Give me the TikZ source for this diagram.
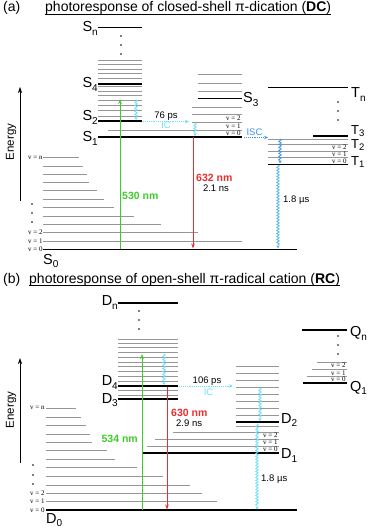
\documentclass[tikz,border=0pt]{standalone}
\usepackage{fontspec}
\setmainfont{Liberation Sans}
\newfontfamily\serifv{Liberation Serif}
\usetikzlibrary{arrows.meta,decorations.pathmorphing}
\definecolor{lvlgray}{RGB}{150,150,150}
\definecolor{grn}{RGB}{60,205,40}
\definecolor{rd}{RGB}{235,45,45}
\definecolor{cy}{RGB}{105,225,250}
\definecolor{bl}{RGB}{60,150,235}
\newcommand\stsub[2]{#1\raisebox{-3.8pt}{\fontsize{10}{10}\selectfont #2}}
\newcommand\stsubt[2]{#1\raisebox{-2.3pt}{\fontsize{9.5}{10}\selectfont #2}}
\begin{document}
\begin{tikzpicture}[x=1pt,y=-1pt,
  glvl/.style={draw=lvlgray, line width=0.8pt},
  blvl/.style={draw=black, line width=1.5pt},
  statelab/.style={font=\fontsize{14.5}{15}\selectfont, inner sep=0pt},
  tlab/.style={font=\fontsize{13}{14}\selectfont, inner sep=0pt},
  vlab/.style={font=\serifv\fontsize{7}{7}\selectfont, inner sep=0.3pt},
  smalllab/.style={font=\fontsize{9.5}{10}\selectfont, inner sep=0pt},
  nmlab/.style={font=\bfseries\fontsize{10.5}{11}\selectfont, inner sep=0pt},
  ttl/.style={font=\fontsize{14}{15}\selectfont, inner sep=0pt},
  enlab/.style={font=\fontsize{11.5}{12}\selectfont, inner sep=0pt, rotate=90},
  eaxis/.style={draw=black, line width=0.6pt, -{Stealth[length=6pt,width=4pt]}},
  grnarr/.style={draw=grn, line width=1pt, -{Stealth[length=5pt,width=3.5pt]}},
  redarr/.style={draw=rd, line width=1pt, -{Stealth[length=5pt,width=3.5pt]}},
  icarr/.style={draw=cy, line width=0.9pt, densely dotted, -{Stealth[length=4pt,width=3.5pt]}},
  iscarr/.style={draw=bl, line width=0.9pt, densely dotted, -{Stealth[length=4pt,width=3.5pt]}},
  wavy/.style={line width=0.8pt, decorate, decoration={snake, amplitude=1.2pt, segment length=3pt, post length=3pt}, -{Stealth[length=3pt,width=3pt]}},
  dotm/.style={fill=black}
]
\useasboundingbox (0,0) rectangle (367,529);

% ================= (a) =================
\node[ttl, anchor=base west] (pa) at (3,11.7) {(a)};
\node[ttl, anchor=base west] (ta) at (45,11.7) {photoresponse of closed-shell π-dication (\textbf{DC})};
\draw[line width=0.6pt] ([yshift=-2.6pt]ta.base west) -- ([yshift=-2.6pt]ta.base east);

% energy axis
\coordinate (ea0) at (20,201); \coordinate (ea1) at (20,87);
\draw[eaxis] (ea0) -- (ea1);
\node[enlab] (ena) at (11,142) {Energy};

% S0 vibrational ladder
\foreach \y/\xe in {157.7/79, 166/83, 174/87, 182.3/89, 190.7/97, 199/104, 207.5/114, 216/134, 224.3/161, 232.6/198, 241/242}
  \draw[glvl] (43,\y) -- (\xe,\y);
\draw[blvl] (43,249.5) -- (297,249.5);
\node[statelab, anchor=base west] (s0) at (43,264) {\stsub{S}{0}};
\node[vlab, anchor=east] (avn) at (43,157.7) {v = n};
\node[vlab, anchor=east] (av2) at (43,232.6) {v = 2};
\node[vlab, anchor=east] (av1) at (43,241) {v = 1};
\node[vlab, anchor=east] (av0) at (43,249.5) {v = 0};
\foreach \y in {204,213,222} \fill[dotm] (32,\y) circle (0.9pt);

% singlet ladder S2/S4/Sn
\foreach \y in {60,64.3,69,73.3,78.3,86.7,91,95,100,105.5,110.7,116}
  \draw[glvl] (98,\y) -- (142,\y);
\draw[blvl] (98,27.3) -- (142,27.3);
\draw[blvl] (98,84) -- (142,84);
\draw[blvl] (98,121) -- (142,121);
\foreach \y in {36,45,54} \fill[dotm] (121,\y) circle (0.9pt);
\node[statelab, anchor=base east] (sn) at (98,31.5) {\stsub{S}{n}};
\node[statelab, anchor=base east] (s4) at (98,87.5) {\stsub{S}{4}};
\node[statelab, anchor=base east] (s2) at (98,121) {\stsub{S}{2}};

% S1 and S3 stack
\draw[glvl] (108,130) -- (242,130);
\draw[blvl] (98,137) -- (242,137);
\node[statelab, anchor=base east] (s1) at (98,142) {\stsub{S}{1}};
\foreach \y in {74,83,91} \draw[glvl] (198,\y) -- (242,\y);
\draw[blvl] (198,98.3) -- (242,98.3);
\foreach \y in {107,114,122} \draw[glvl] (192,\y) -- (242,\y);
\node[statelab, anchor=base west] (s3) at (243,103) {\stsub{S}{3}};
\node[vlab, anchor=south east] (bv2) at (241,121.5) {v = 2};
\node[vlab, anchor=south east] (bv1) at (241,129.5) {v = 1};
\node[vlab, anchor=south east] (bv0) at (241,136.3) {v = 0};

% triplet stack
\draw[blvl] (268,87.7) -- (348,87.7);
\foreach \y in {102,111,120} \fill[dotm] (338,\y) circle (0.9pt);
\foreach \y in {139,144.5,151,157.5} \draw[glvl] (268,\y) -- (348,\y);
\draw[blvl] (313,136) -- (348,136);
\draw[blvl] (268,164.3) -- (348,164.3);
\node[vlab, anchor=south east] (tv2) at (347,150.5) {v = 2};
\node[vlab, anchor=south east] (tv1) at (347,157) {v = 1};
\node[vlab, anchor=south east] (tv0) at (347,163.6) {v = 0};
\node[statelab, anchor=base west] (tn) at (351,98) {\stsub{T}{n}};
\node[tlab, anchor=base west] (t3) at (351,134.5) {\stsubt{T}{3}};
\node[tlab, anchor=base west] (t2) at (351,148.3) {\stsubt{T}{2}};
\node[tlab, anchor=base west] (t1) at (351,165.5) {\stsubt{T}{1}};

% arrows (a)
\coordinate (ag0) at (120,248.5); \coordinate (ag1) at (120,99);
\draw[grnarr] (ag0) -- (ag1);
\node[nmlab, text=grn, anchor=base west] (a530) at (122,200) {530 nm};
\coordinate (aw0) at (136,100); \coordinate (aw1) at (136,120);
\draw[wavy, cy] (aw0) -- (aw1);
\coordinate (aic0) at (143,121.5); \coordinate (aic1) at (189,121.5);
\draw[icarr] (aic0) -- (aic1);
\node[smalllab, anchor=base] (a76) at (166,119) {76 ps};
\node[smalllab, text=cy, anchor=base] (aic) at (166,128.5) {IC};
\coordinate (aw2) at (195,123); \coordinate (aw3) at (195,136);
\draw[wavy, cy] (aw2) -- (aw3);
\coordinate (ar0) at (193,137.5); \coordinate (ar1) at (193,248.5);
\draw[redarr] (ar0) -- (ar1);
\node[nmlab, text=rd, anchor=base west] (a632) at (196,181.7) {632 nm};
\node[smalllab, anchor=base] (a21) at (216,191.5) {2.1 ns};
\coordinate (ai0) at (244,137.5); \coordinate (ai1) at (268,137.5);
\draw[iscarr] (ai0) -- (ai1);
\node[smalllab, text=bl, anchor=base] (aisc) at (254.5,135.3) {ISC};
\coordinate (aw4) at (280,139); \coordinate (aw5) at (280,163.5);
\draw[wavy, bl] (aw4) -- (aw5);
\coordinate (aw6) at (278,165); \coordinate (aw7) at (278,248.5);
\draw[wavy, bl!55!cy] (aw6) -- (aw7);
\node[smalllab, anchor=base west] (a18) at (283,202.5) {1.8 µs};

% ================= (b) =================
\node[ttl, anchor=base west] (pb) at (3,283) {(b)};
\node[ttl, anchor=base west] (tb) at (29,283) {photoresponse of open-shell π-radical cation (\textbf{RC})};
\draw[line width=0.6pt] ([yshift=-2.6pt]tb.base west) -- ([yshift=-2.6pt]tb.base east);

\coordinate (eb0) at (20,463); \coordinate (eb1) at (20,358);
\draw[eaxis] (eb0) -- (eb1);
\node[enlab] (enb) at (11,410) {Energy};

% D0 ladder
\foreach \y/\xe in {408/76, 417/81, 425.5/86, 434/90, 442/92, 450.5/107, 459/115, 467.5/137, 476.5/163, 485/190, 493.3/202, 501.7/217}
  \draw[glvl] (46,\y) -- (\xe,\y);
\draw[blvl] (46,510) -- (297,510);
\node[statelab, anchor=base west] (d0) at (46,523) {\stsub{D}{0}};
\node[vlab, anchor=east] (cvn) at (45,408) {v = n};
\node[vlab, anchor=east] (cv2) at (45,493.3) {v = 2};
\node[vlab, anchor=east] (cv1) at (45,501.7) {v = 1};
\node[vlab, anchor=east] (cv0) at (45,510) {v = 0};
\foreach \y in {465,475,484} \fill[dotm] (33,\y) circle (0.9pt);

% D ladder (Dn, D4, D3)
\draw[blvl] (118,303) -- (178,303);
\foreach \y in {311,320,329} \fill[dotm] (139,\y) circle (0.9pt);
\foreach \y in {339,343,347,352.5,357,362,366.5,371.5,376.5,381,390.5,395}
  \draw[glvl] (118,\y) -- (178,\y);
\draw[blvl] (118,386) -- (178,386);
\draw[blvl] (118,399) -- (178,399);
\node[statelab, anchor=base east] (dn) at (118,305.5) {\stsub{D}{n}};
\node[statelab, anchor=base east] (d4) at (118,385.5) {\stsub{D}{4}};
\node[statelab, anchor=base east] (d3) at (118,403) {\stsub{D}{3}};

% D2 / D1 stack
\foreach \y in {366,373,380,387,394,401,408,415} \draw[glvl] (236,\y) -- (279,\y);
\draw[blvl] (236,422) -- (279,422);
\draw[glvl] (236,426) -- (279,426);
\draw[glvl] (173,432) -- (279,432);
\draw[glvl] (155,439) -- (279,439);
\draw[glvl] (147,446) -- (279,446);
\draw[blvl] (143,453) -- (279,453);
\node[vlab, anchor=south east] (dv2) at (278,438.5) {v = 2};
\node[vlab, anchor=south east] (dv1) at (278,445.5) {v = 1};
\node[vlab, anchor=south east] (dv0) at (278,452.3) {v = 0};
\node[statelab, anchor=base west] (d2) at (281,423) {\stsub{D}{2}};
\node[statelab, anchor=base west] (d1) at (281,458.5) {\stsub{D}{1}};

% Q stack
\draw[blvl] (302,330) -- (347,330);
\foreach \y in {336,345,354} \fill[dotm] (338,\y) circle (0.9pt);
\draw[glvl] (317,362) -- (347,362);
\draw[glvl] (312,369) -- (347,369);
\draw[glvl] (307,376.5) -- (347,376.5);
\draw[blvl] (303,383) -- (347,383);
\node[vlab, anchor=south east] (qv2) at (346,368.5) {v = 2};
\node[vlab, anchor=south east] (qv1) at (346,376) {v = 1};
\node[vlab, anchor=south east] (qv0) at (346,382.3) {v = 0};
\node[statelab, anchor=base west] (qn) at (350,336.5) {\stsub{Q}{n}};
\node[statelab, anchor=base west] (q1) at (350,391) {\stsub{Q}{1}};

% arrows (b)
\coordinate (bg0) at (142,509.5); \coordinate (bg1) at (142,354);
\draw[grnarr] (bg0) -- (bg1);
\node[nmlab, text=grn, anchor=base east] (b534) at (138,442.7) {534 nm};
\coordinate (bw0) at (164,354); \coordinate (bw1) at (164,385);
\draw[wavy, cy] (bw0) -- (bw1);
\coordinate (br0) at (167,386.5); \coordinate (br1) at (167,509.5);
\draw[redarr] (br0) -- (br1);
\node[nmlab, text=rd, anchor=base west] (b630) at (171,416) {630 nm};
\node[smalllab, anchor=base west] (b29) at (176,426) {2.9 ns};
\coordinate (bic0) at (179,386); \coordinate (bic1) at (233,386);
\draw[icarr] (bic0) -- (bic1);
\node[smalllab, anchor=base] (b106) at (207,383.5) {106 ps};
\node[smalllab, text=cy, anchor=base] (bic) at (208.5,395) {IC};
\coordinate (bw2) at (260,388); \coordinate (bw3) at (260,421);
\draw[wavy, cy] (bw2) -- (bw3);
\coordinate (bw4) at (257,424); \coordinate (bw5) at (257,509.5);
\draw[wavy, cy] (bw4) -- (bw5);
\node[smalllab, anchor=base west] (b18) at (261,481) {1.8 µs};
\end{tikzpicture}
\end{document}
